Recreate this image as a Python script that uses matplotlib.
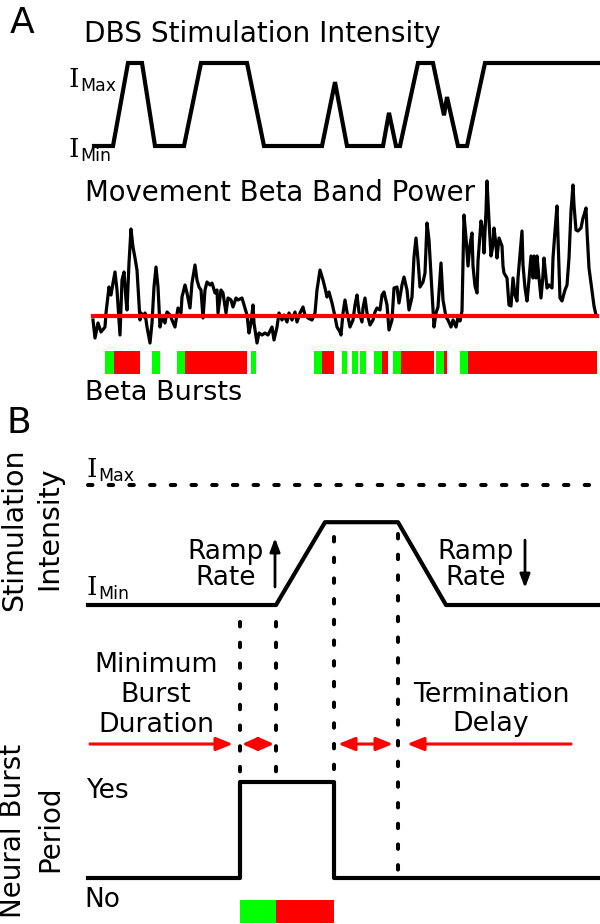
import numpy as np
import matplotlib.pyplot as plt
from matplotlib.patches import FancyArrowPatch

plt.rcParams['font.family'] = ['DejaVu Sans']
plt.rcParams['lines.scale_dashes'] = False

W, H = 600, 924

# ---------------- panel A data ----------------
# DBS stimulation intensity (0 = I_min, 1 = I_max)
stim_a_t = [94, 113, 128, 142, 155, 184, 201, 247, 264, 322, 335, 347, 383, 389,
            396, 400, 418, 433, 444, 447, 458, 467, 485, 598]
stim_a_level = [0, 0, 1, 1, 0, 0, 1, 1, 0, 0, 0.77, 0, 0, 0.40,
                0, 0, 1, 1, 0.37, 0.59, 0, 0, 1, 1]

# movement beta band power (arbitrary units)
beta_t = [93, 95, 98, 101, 105, 106, 109, 111, 113, 115, 117, 120, 122, 124, 126, 127,
          129, 131, 133, 135, 137, 140, 141, 144, 145, 147, 150, 152, 154, 156, 158, 160,
          162, 165, 167, 170, 172, 175, 178, 181, 182, 185, 187, 190, 192, 195, 197, 199,
          201, 203, 205, 207, 210, 212, 215, 217, 218, 221, 223, 226, 228, 231, 233, 236,
          238, 242, 245, 247, 249, 251, 253, 254, 257, 259, 262, 265, 268, 272, 274, 277,
          279, 282, 284, 287, 289, 292, 295, 297, 300, 303, 305, 308, 312, 315, 317, 320,
          323, 325, 327, 329, 332, 334, 337, 340, 341, 343, 345, 347, 350, 353, 355, 357,
          359, 362, 363, 365, 367, 370, 373, 375, 377, 380, 382, 384, 387, 389, 392, 394,
          397, 399, 402, 404, 407, 409, 412, 414, 416, 418, 420, 423, 425, 427, 429, 432,
          434, 436, 438, 441, 443, 446, 448, 451, 453, 456, 458, 460, 462, 464, 466, 468,
          470, 472, 473, 475, 477, 478, 481, 483, 484, 486, 487, 489, 491, 493, 494, 496,
          497, 499, 502, 503, 504, 507, 509, 511, 513, 515, 517, 518, 520, 522, 523, 525,
          527, 528, 531, 533, 534, 536, 537, 539, 541, 543, 544, 546, 547, 549, 552, 553,
          555, 557, 558, 560, 562, 565, 567, 569, 571, 573, 574, 576, 578, 581, 583, 584,
          586, 587, 589, 592, 594, 596]
beta_power = [25, 7, 22, 13, 18, 32, 58, 50, 62, 73, 55, 10, 65, 73, 45, 35,
              82, 116, 98, 87, 75, 25, 32, 28, 32, 18, 2, 22, 58, 78, 58, 18,
              28, 22, 33, 30, 25, 18, 37, 32, 48, 60, 52, 37, 62, 80, 65, 58,
              55, 27, 55, 63, 60, 62, 52, 55, 32, 55, 52, 32, 47, 45, 38, 47,
              45, 47, 37, 30, 12, 22, 40, 22, 2, 12, 10, 12, 10, 18, 5, 18,
              32, 25, 30, 23, 32, 25, 33, 23, 32, 38, 30, 27, 25, 32, 55, 75,
              65, 57, 48, 53, 42, 33, 18, 13, 10, 32, 45, 33, 18, 25, 40, 50,
              33, 23, 37, 47, 32, 20, 25, 33, 37, 35, 50, 53, 40, 15, 25, 57,
              58, 42, 60, 68, 55, 35, 48, 88, 107, 85, 58, 63, 72, 122, 105, 52,
              18, 32, 38, 82, 45, 28, 25, 18, 25, 18, 28, 24, 34, 130, 107, 79,
              100, 112, 79, 59, 52, 84, 124, 114, 92, 134, 164, 124, 89, 100, 117, 100,
              87, 107, 99, 79, 72, 67, 40, 39, 67, 50, 44, 67, 90, 114, 80, 57,
              44, 54, 89, 67, 89, 67, 89, 67, 47, 70, 87, 67, 57, 60, 57, 87,
              114, 139, 107, 47, 44, 55, 60, 87, 134, 160, 140, 115, 114, 117, 127, 130,
              137, 114, 77, 54, 39, 30]
beta_threshold = 29

# beta bursts: onset, end of minimum-duration part (green), burst end
burst_on = [105.3, 152.3, 176.7, 251.3, 314.0, 342.0, 352.3, 360.3, 374.3, 392.7, 435.7, 460.0]
burst_min_end = [113.7, 160.0, 184.7, 256.0, 322.0, 347.3, 358.3, 366.3, 382.3, 400.7, 444.0, 467.7]
burst_off = [140.3, 160.0, 247.3, 256.0, 334.3, 347.3, 358.3, 366.3, 388.3, 434.0, 447.3, 596.7]

# ---------------- panel B data ----------------
b_stim_t = [88, 276, 325, 398, 446, 598]
b_stim_level = [0, 0, 0.69, 0.69, 0, 0]
b_burst_t = [88, 240, 240, 334, 334, 598]
b_burst_state = [0, 0, 1, 1, 0, 0]
b_burst_on, b_min_end, b_burst_off = 240, 276, 334
b_term_end = 398

GREEN = '#00ff00'
RED = '#ff0000'

fig = plt.figure(figsize=(W / 100, H / 100), dpi=100)
ax0 = fig.add_axes([0, 0, 1, 1])
ax0.set_xlim(0, W)
ax0.set_ylim(H, 0)
ax0.axis('off')


def band(y_lo, y_hi, lo, hi):
    # axes whose values lo / hi sit on pixel rows y_lo / y_hi
    ax = fig.add_axes([0, 1 - y_lo / H, 1, (y_lo - y_hi) / H])
    ax.set_xlim(0, W)
    ax.set_ylim(lo, hi)
    ax.axis('off')
    ax.patch.set_alpha(0)
    return ax


def ilabel(x, y, sub):
    ax0.text(x, y, 'I', family='DejaVu Serif', fontsize=19, va='baseline')
    ax0.text(x + 12, y + 4, sub, fontsize=12.5, va='baseline')


dots = dict(color='black', lw=2.9, linestyle=(0, (3.2, 11.7)), dash_capstyle='round',
            solid_capstyle='round')

# ---------------- panel A ----------------
ax0.text(10, 33, 'A', fontsize=26, va='baseline')
ax0.text(84, 42, 'DBS Stimulation Intensity', fontsize=20.2, va='baseline')
ilabel(68, 87, 'Max')
ilabel(68, 157, 'Min')

axs = band(146, 63, 0, 1)
axs.plot(stim_a_t, stim_a_level, color='black', lw=3, clip_on=False, solid_joinstyle='miter')

ax0.text(85, 201, 'Movement Beta Band Power', fontsize=19.8, va='baseline')
axb = band(345, 180, 0, 165)
axb.plot(beta_t, beta_power, color='black', lw=2.3, clip_on=False, solid_joinstyle='round')
axb.plot([beta_t[0], beta_t[-1] + 1], [beta_threshold] * 2, color=RED, lw=3, clip_on=False)

axr = band(374, 351, 0, 1)
for on, mid, off in zip(burst_on, burst_min_end, burst_off):
    axr.broken_barh([(on, mid - on)], (0, 1), color=GREEN, lw=0)
    if off > mid:
        axr.broken_barh([(mid, off - mid)], (0, 1), color=RED, lw=0)
ax0.text(85, 400, 'Beta Bursts', fontsize=19.5, va='baseline')

# ---------------- panel B ----------------
ax0.text(7, 433, 'B', fontsize=26, va='baseline')
ax0.text(14, 530, 'Stimulation', fontsize=20.5, rotation=90, ha='center', va='center')
ax0.text(49, 528, 'Intensity', fontsize=20.5, rotation=90, ha='center', va='center')
ilabel(86, 477, 'Max')
ilabel(86, 595, 'Min')

axsb = band(605, 485, 0, 1)
axsb.plot([b_stim_t[0], b_stim_t[-1]], [1, 1], clip_on=False, **dots)
axsb.plot(b_stim_t, b_stim_level, color='black', lw=3, clip_on=False)

for xc in [226, 476]:
    ax0.text(xc, 559, 'Ramp', fontsize=19, ha='center', va='baseline')
    ax0.text(xc, 585, 'Rate', fontsize=19, ha='center', va='baseline')
ax0.add_patch(FancyArrowPatch((275, 587), (275, 538), arrowstyle='-|>,head_length=8,head_width=3',
                              color='black', lw=2, shrinkA=0, shrinkB=0))
ax0.add_patch(FancyArrowPatch((525, 540), (525, 588), arrowstyle='-|>,head_length=8,head_width=3',
                              color='black', lw=2, shrinkA=0, shrinkB=0))

# dotted markers
for t, y0, y1 in [(b_burst_on, 622, 780), (b_min_end, 622, 775), (b_burst_off, 537, 775),
                  (b_term_end, 534, 872)]:
    ax0.plot([t, t], [y0, y1], **dots)

for i, s in enumerate(['Minimum', 'Burst', 'Duration']):
    ax0.text(156, 672 + 30 * i, s, fontsize=19.3, ha='center', va='baseline')
for i, s in enumerate(['Termination', 'Delay']):
    ax0.text(491, 702 + 29 * i, s, fontsize=19.3, ha='center', va='baseline')

arr = dict(color=RED, lw=2.2, shrinkA=0, shrinkB=0, mutation_scale=1)
ya = 744
ax0.add_patch(FancyArrowPatch((90, ya), (b_burst_on - 7, ya),
                              arrowstyle='-|>,head_length=10,head_width=4', **arr))
ax0.add_patch(FancyArrowPatch((b_burst_on + 2, ya), (b_min_end - 2, ya),
                              arrowstyle='<|-|>,head_length=9,head_width=4', **arr))
ax0.add_patch(FancyArrowPatch((b_burst_off + 4, ya), (b_term_end - 5, ya),
                              arrowstyle='<|-|>,head_length=10,head_width=4', **arr))
ax0.add_patch(FancyArrowPatch((571, ya), (b_term_end + 9, ya),
                              arrowstyle='-|>,head_length=10,head_width=4', **arr))

ax0.text(13, 831, 'Neural Burst', fontsize=20, rotation=90, ha='center', va='center')
ax0.text(50, 829, 'Period', fontsize=20, rotation=90, ha='center', va='center')
ax0.text(86, 798, 'Yes', fontsize=19, va='baseline')
ax0.text(84, 907, 'No', fontsize=19, va='baseline')

axp = band(878, 782, 0, 1)
axp.plot(b_burst_t, b_burst_state, color='black', lw=3, clip_on=False)

axbar = band(923, 900, 0, 1)
axbar.broken_barh([(b_burst_on, b_min_end - b_burst_on)], (0, 1), color=GREEN, lw=0)
axbar.broken_barh([(b_min_end, b_burst_off - b_min_end)], (0, 1), color=RED, lw=0)

fig.savefig('out.png', dpi=100, facecolor='white')
